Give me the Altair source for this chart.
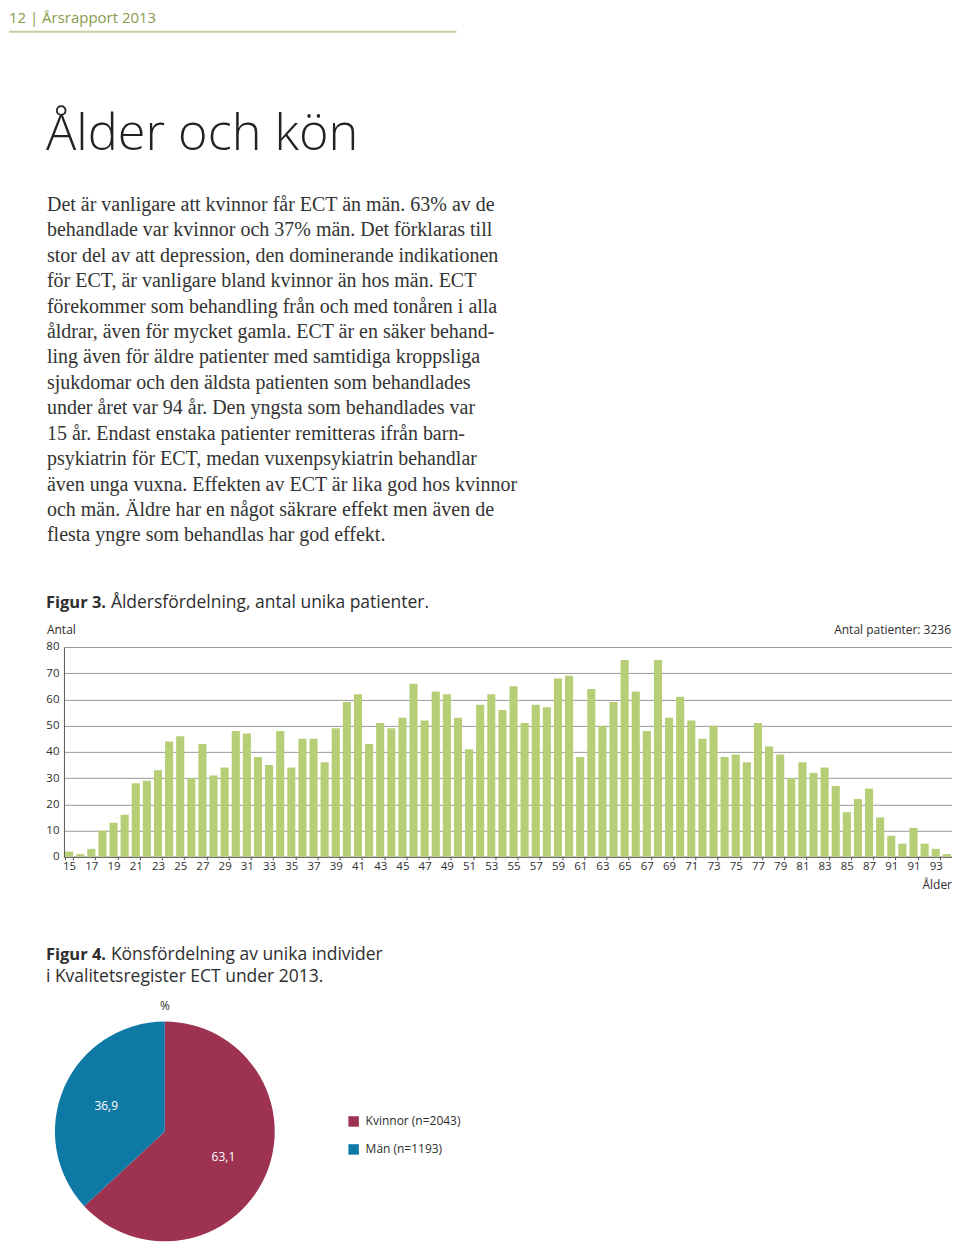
import json
import altair as alt
import pandas as pd

# ---------------- data ----------------
ages = list(range(15, 95))
counts = [2, 1, 3, 10, 13, 16, 28, 29, 33, 44,
          46, 30, 43, 31, 34, 48, 47, 38, 35, 48,
          34, 45, 45, 36, 49, 59, 62, 43, 51, 49,
          53, 66, 52, 63, 62, 53, 41, 58, 62, 56,
          65, 51, 58, 57, 68, 69, 38, 64, 50, 59,
          75, 63, 48, 75, 53, 61, 52, 45, 50, 38,
          39, 36, 51, 42, 39, 30, 36, 32, 34, 27,
          17, 22, 26, 15, 8, 5, 11, 5, 3, 1]
tick_ages = list(range(15, 95, 2))
tick_texts = [str(a) for a in range(15, 89, 2)] + ["91", "91", "93"]
y_ticks = [0, 10, 20, 30, 40, 50, 60, 70, 80]

genders = ["Kvinnor (n=2043)", "Män (n=1193)"]
gender_pct = [63.1, 36.9]
gender_pct_labels = ["63,1", "36,9"]
gender_colors = ["#9d3351", "#0f79a5"]

header_text = "12  |  Årsrapport 2013"
title_text = "Ålder och kön"
paragraph = [
    "Det är vanligare att kvinnor får ECT än män. 63% av de",
    "behandlade var kvinnor och 37% män. Det förklaras till",
    "stor del av att depression, den dominerande indikationen",
    "för ECT, är vanligare bland kvinnor än hos män. ECT",
    "förekommer som behandling från och med tonåren i alla",
    "åldrar, även för mycket gamla. ECT är en säker behand-",
    "ling även för äldre patienter med samtidiga kroppsliga",
    "sjukdomar och den äldsta patienten som behandlades",
    "under året var 94 år. Den yngsta som behandlades var",
    "15 år. Endast enstaka patienter remitteras ifrån barn-",
    "psykiatrin för ECT, medan vuxenpsykiatrin behandlar",
    "även unga vuxna. Effekten av ECT är lika god hos kvinnor",
    "och män. Äldre har en något säkrare effekt men även de",
    "flesta yngre som behandlas har god effekt.",
]

# ---------------- layout helpers ----------------
OX, OY = 63, 646          # page position of the bar plot's top-left corner
W, H = 889, 210
SANS = "Open Sans"
SERIF = "Liberation Serif"
TXT = "#2e2e2e"


def text_at(t, px, py, size, font=SANS, weight="normal", color=TXT, align="left", baseline="middle"):
    return alt.Chart(pd.DataFrame({"t": [t]})).mark_text(
        align=align, baseline=baseline, font=font, fontSize=size,
        fontWeight=weight, color=color
    ).encode(x=alt.value(px - OX), y=alt.value(py - OY), text="t:N")


layers = []

# invisible anchor that fixes the top edge of the page layout
layers.append(
    alt.Chart(pd.DataFrame({"a": [0]})).mark_rule(color="white", strokeWidth=1).encode(
        x=alt.value(8 - OX), x2=alt.value(9 - OX), y=alt.value(8 - OY)
    )
)
# header
layers.append(text_at(header_text, 8, 16, 15, color="#8a9a4c"))
layers.append(
    alt.Chart(pd.DataFrame({"a": [0]})).mark_rule(color="#c3cfa0", strokeWidth=2).encode(
        x=alt.value(8 - OX), x2=alt.value(456 - OX), y=alt.value(30 - OY)
    )
)
# title
layers.append(text_at(title_text, 45, 148, 50.5, weight=300, color="#222222", baseline="alphabetic"))
# paragraph
for i, line in enumerate(paragraph):
    layers.append(text_at(line, 46, 209.5 + i * 25.45, 20, font=SERIF, color="#333333", baseline="alphabetic"))

# figure 3 caption
layers.append(text_at("Figur 3.", 45, 606.5, 16.5, weight="bold", baseline="alphabetic"))
layers.append(text_at("Åldersfördelning, antal unika patienter.", 110, 606.5, 17.5, baseline="alphabetic"))
layers.append(text_at("Antal", 46, 629, 12))
layers.append(text_at("Antal patienter: 3236", 951, 629, 12, align="right"))
layers.append(text_at("Ålder", 952, 884, 12, align="right"))

# bars
bar_df = pd.DataFrame({"age": ages, "n": counts})
label_map = json.dumps({str(a): t for a, t in zip(tick_ages, tick_texts)})
bars = alt.Chart(bar_df).mark_bar(color="#b6cf76").encode(
    x=alt.X(
        "age:O",
        scale=alt.Scale(paddingInner=0.27, paddingOuter=0.1),
        axis=alt.Axis(
            title=None, values=tick_ages, labelExpr=f"{label_map}[datum.label]",
            labelAngle=0, labelFont=SANS, labelFontSize=11.5, labelColor=TXT,
            domainColor="#555555", tickColor="#555555", tickSize=3, labelPadding=1,
            tickBand="extent", grid=False,
        ),
    ),
    y=alt.Y(
        "n:Q",
        scale=alt.Scale(domain=[0, 80], nice=False),
        axis=alt.Axis(
            title=None, values=y_ticks, labelFont=SANS, labelFontSize=11.5, labelColor=TXT,
            domainColor="#555555", tickSize=0, labelPadding=5,
            grid=True, gridColor="#9a9a9a", gridWidth=1,
        ),
    ),
)
layers.append(bars)

# figure 4 caption
layers.append(text_at("Figur 4.", 45, 959, 16.5, weight="bold", baseline="alphabetic"))
layers.append(text_at("Könsfördelning av unika individer", 110, 959, 17.5, baseline="alphabetic"))
layers.append(text_at("i Kvalitetsregister ECT under 2013.", 45, 981, 17.5, baseline="alphabetic"))
layers.append(text_at("%", 164, 1005, 12, align="center"))

# pie
CX, CY, R = 164, 1131, 110
pie_df = pd.DataFrame({"g": genders, "p": gender_pct, "lab": gender_pct_labels, "o": [0, 1]})
pie = alt.Chart(pie_df).mark_arc(stroke=None).encode(
    theta=alt.Theta("p:Q", stack=True),
    order=alt.Order("o:Q"),
    color=alt.Color(
        "g:N",
        scale=alt.Scale(domain=genders, range=gender_colors),
        sort=genders,
        legend=alt.Legend(
            title=None, orient="none", legendX=347 - OX, legendY=1115 - OY,
            symbolType="square", symbolSize=110, symbolStrokeWidth=0,
            labelFont=SANS, labelFontSize=12, labelColor=TXT, rowPadding=16,
            labelOffset=6,
        ),
    ),
    x=alt.value(CX - OX), y=alt.value(CY - OY), radius=alt.value(R),
)
pie_labels = alt.Chart(pie_df).mark_text(
    radius=64, font=SANS, fontSize=12, color="white"
).encode(
    theta=alt.Theta("p:Q", stack=True),
    order=alt.Order("o:Q"),
    text="lab:N",
    x=alt.value(CX - OX), y=alt.value(CY - OY),
)
layers += [pie, pie_labels]

chart = alt.layer(*layers).properties(
    width=W, height=H, padding=0
).configure_view(stroke=None).resolve_scale(theta="independent")

chart.save("out.html", embed_options={"renderer": "svg", "actions": False})
